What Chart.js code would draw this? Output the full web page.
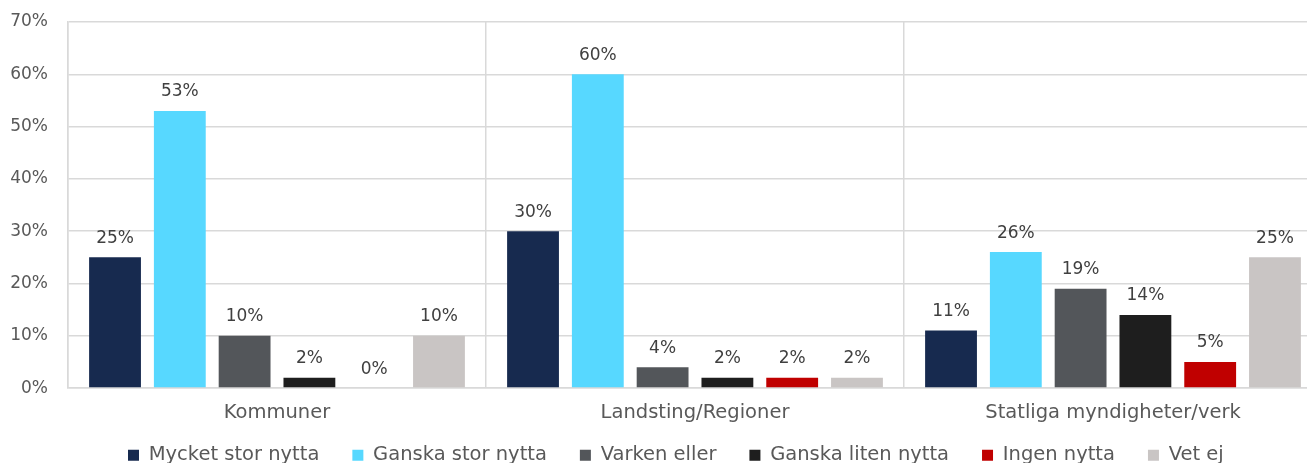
<!DOCTYPE html>
<html><head><meta charset="utf-8">
<script src="https://cdn.jsdelivr.net/npm/chart.js@4/dist/chart.umd.min.js"></script>
<style>html,body{margin:0;padding:0;overflow:hidden;background:#fff;}#wrap{position:absolute;left:0;top:0;width:1322px;height:500px;}</style>
</head><body>
<div id="wrap"><canvas id="c" width="1322" height="500"></canvas></div>
<script>
const categories = ["Kommuner", "Landsting/Regioner", "Statliga myndigheter/verk"];
const seriesNames = ["Mycket stor nytta", "Ganska stor nytta", "Varken eller", "Ganska liten nytta", "Ingen nytta", "Vet ej"];
const mycketStor = [25, 30, 11];
const ganskaStor = [53, 60, 26];
const varkenEller = [10, 4, 19];
const ganskaLiten = [2, 2, 14];
const ingen = [0, 2, 5];
const vetEj = [10, 2, 25];
const colors = ["#172a4f", "#57d8ff", "#53565a", "#1e1e1e", "#c00000", "#c9c5c4"];
const yTicks = [0, 10, 20, 30, 40, 50, 60, 70];

const FONT = "'DejaVu Sans', sans-serif";
const values = [mycketStor, ganskaStor, varkenEller, ganskaLiten, ingen, vetEj];
const LEGEND_PAD = 33;
const LEGEND_SHIFT = -25;

const labelPlugin = {
  id: 'barLabels',
  afterLayout(chart) {
    const lg = chart.legend;
    if (lg) {
      const w = lg.right - lg.left;
      lg.left = 128 - LEGEND_PAD;
      lg.right = lg.left + w;
      lg.top += LEGEND_SHIFT;
      lg.bottom += LEGEND_SHIFT;
    }
  },
  afterDatasetsDraw(chart) {
    const ctx = chart.ctx;
    ctx.save();
    ctx.font = "17px " + FONT;
    ctx.fillStyle = "#404040";
    ctx.textAlign = "center";
    ctx.textBaseline = "middle";
    chart.data.datasets.forEach((ds, i) => {
      const meta = chart.getDatasetMeta(i);
      meta.data.forEach((bar, j) => {
        ctx.fillText(ds.data[j] + "%", bar.x, bar.y - 19);
      });
    });
    ctx.restore();
  }
};

new Chart(document.getElementById('c'), {
  type: 'bar',
  data: {
    labels: categories,
    datasets: seriesNames.map((n, i) => ({
      label: n,
      data: values[i],
      backgroundColor: colors[i],
      borderWidth: 0,
      barPercentage: 0.8,
      categoryPercentage: 0.93
    }))
  },
  options: {
    responsive: false,
    animation: false,
    layout: { padding: { top: 22, right: 0, left: 0, bottom: 0 } },
    plugins: {
      legend: {
        position: 'bottom',
        align: 'start',
        labels: {
          font: { family: FONT, size: 19.5 },
          color: "#595959",
          boxWidth: 11,
          boxHeight: 11,
          padding: LEGEND_PAD
        }
      },
      tooltip: { enabled: false }
    },
    scales: {
      x: {
        offset: true,
        grid: { offset: true, color: "#d9d9d9", lineWidth: 1.5, drawTicks: false },
        border: { color: "#d9d9d9", width: 1.5 },
        ticks: { font: { family: FONT, size: 19.5 }, color: "#595959", padding: 13 }
      },
      y: {
        min: 0, max: 70,
        afterBuildTicks(axis) { axis.ticks = yTicks.map(v => ({ value: v })); },
        afterFit(axis) { axis.width = 68; },
        grid: { color: "#d9d9d9", lineWidth: 1.5, drawTicks: true, tickLength: 16, tickColor: "rgba(0,0,0,0)" },
        border: { color: "#d9d9d9", width: 1.5 },
        ticks: { font: { family: FONT, size: 17 }, color: "#595959", padding: 4, callback: v => v + "%" }
      }
    }
  },
  plugins: [labelPlugin]
});
</script>
</body></html>
